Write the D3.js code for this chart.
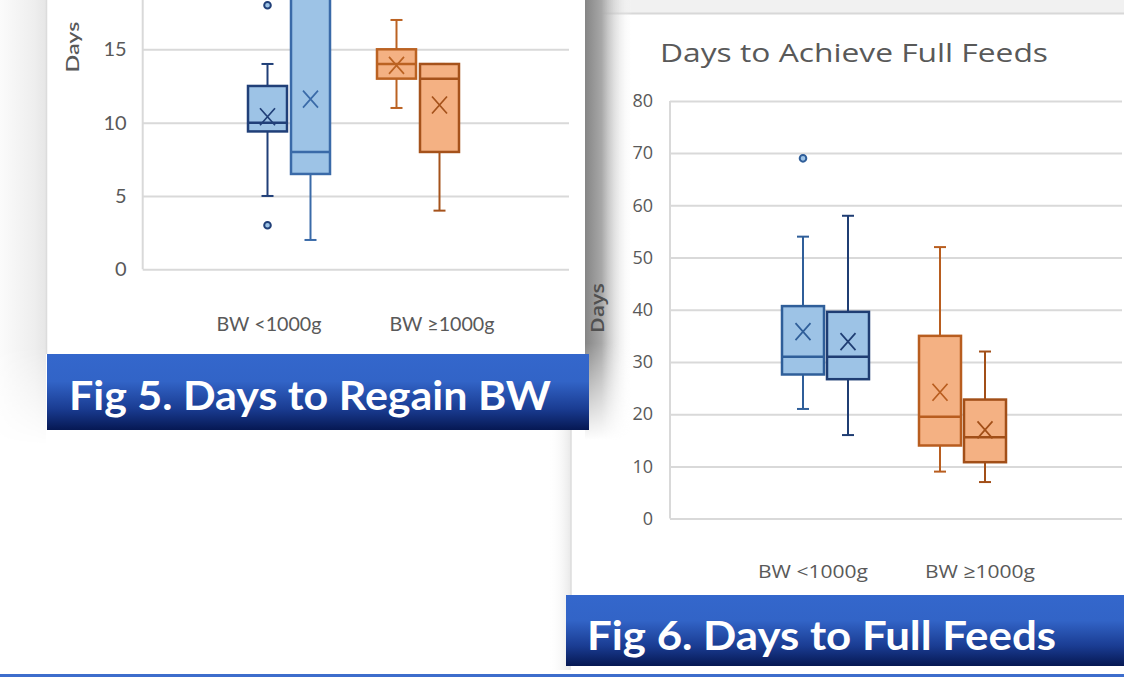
<!DOCTYPE html>
<html>
<head>
<meta charset="utf-8">
<script src="https://cdn.jsdelivr.net/npm/d3@7"></script>
<style>
body { margin: 0; background: #fff; }
svg { display: block; }
</style>
</head>
<body>
<svg id="poster" width="1124" height="677"></svg>
<script>
const categories = ['BW <1000g', 'BW ≥1000g']
const groups = ['Group 1', 'Group 2']

// Fig 5 - days to regain BW, box order: <1000g/g1, <1000g/g2, ≥1000g/g1, ≥1000g/g2
const regainMin = [5, 2, 11, 4]
const regainQ1 = [9.4, 6.5, 13, 8]
const regainMedian = [10, 8, 14, 13]
const regainQ3 = [12.5, 19.5, 15, 14]
const regainMax = [14, 24, 17, 14]
const regainMean = [10.4, 11.6, 13.9, 11.2]
const regainOutliers = [[18, 3], [], [], []]
const regainTicks = [0, 5, 10, 15]

// Fig 6 - days to achieve full feeds
const feedsMin = [21, 16, 9, 7]
const feedsQ1 = [27.6, 26.7, 14, 10.8]
const feedsMedian = [31, 31, 19.5, 15.6]
const feedsQ3 = [40.7, 39.6, 35, 22.8]
const feedsMax = [54, 58, 52, 32]
const feedsMean = [35.8, 33.9, 24.2, 17]
const feedsOutliers = [[69], [], [], []]
const feedsTicks = [0, 10, 20, 30, 40, 50, 60, 70, 80]

const BLUE_FILL = '#9dc3e6'
const ORANGE_FILL = '#f4b183'
const GRID = '#d9d9d9'
const TEXT = '#595959'

const svg = d3.select('#poster')
const defs = svg.append('defs')

function gradient(id, vertical, stops) {
	const g = defs.append('linearGradient')
		.attr('id', id)
		.attr('x1', 0).attr('y1', 0)
		.attr('x2', vertical ? 0 : 1).attr('y2', vertical ? 1 : 0)
	stops.forEach(s => g.append('stop')
		.attr('offset', s[0])
		.attr('stop-color', s[1])
		.attr('stop-opacity', s[2] === undefined ? 1 : s[2]))
}

gradient('bannerGrad', true, [[0, '#3467cc'], [0.36, '#3264c7'], [0.72, '#1a3c92'], [1, '#061853']])
gradient('leftShade', false, [[0, '#fbfbfb'], [0.75, '#eeeeee'], [1, '#e6e6e6']])
gradient('darkShade', false, [[0, '#858585'], [0.35, '#a8a8a8'], [1, '#ffffff', 0]])
gradient('edgeShade', false, [[0, '#ffffff', 0], [1, '#e8e8e8']])
gradient('fadeDown', true, [[0, '#fff'], [0.78, '#fff'], [1, '#000']])

defs.append('mask').attr('id', 'fadeMask')
	.attr('maskContentUnits', 'objectBoundingBox')
	.append('rect')
	.attr('width', 1).attr('height', 1)
	.attr('fill', 'url(#fadeDown)')

// ---- poster background pieces
const bg = svg.append('g').attr('class', 'poster-bg')

bg.append('rect')
	.attr('x', 0).attr('y', 0).attr('width', 46).attr('height', 445)
	.attr('fill', 'url(#leftShade)')
	.attr('mask', 'url(#fadeMask)')

bg.append('line')
	.attr('x1', 46.5).attr('x2', 46.5).attr('y1', 0).attr('y2', 354)
	.attr('stroke', '#dcdcdc').attr('stroke-width', 1.5)

// top strip of the fig 6 panel
bg.append('rect')
	.attr('x', 585).attr('y', 0).attr('width', 539).attr('height', 13)
	.attr('fill', '#f1f1f1')
bg.append('line')
	.attr('x1', 585).attr('x2', 1124).attr('y1', 13.5).attr('y2', 13.5)
	.attr('stroke', '#d8d8d8').attr('stroke-width', 2)

// lower left edge of the fig 6 panel
bg.append('rect')
	.attr('x', 549).attr('y', 430).attr('width', 22).attr('height', 240)
	.attr('fill', 'url(#edgeShade)')
bg.append('line')
	.attr('x1', 571).attr('x2', 571).attr('y1', 430).attr('y2', 596)
	.attr('stroke', '#dddddd').attr('stroke-width', 1.5)

// shadow cast by the fig 5 panel
bg.append('rect')
	.attr('x', 585).attr('y', 0).attr('width', 48).attr('height', 440)
	.attr('fill', 'url(#darkShade)')
	.attr('mask', 'url(#fadeMask)')

// ---- box plot drawer
function drawBoxPlot(cfg) {
	const g = svg.append('g').attr('class', cfg.cls)

	const y = d3.scaleLinear()
		.domain(cfg.domain)
		.range([cfg.bottom, cfg.top])

	const xBand = d3.scaleBand()
		.domain(categories)
		.range(cfg.bandRange)

	const xSub = d3.scalePoint()
		.domain(groups)
		.range([-cfg.subOffset, cfg.subOffset])

	const xLabel = d3.scalePoint()
		.domain(categories)
		.range(cfg.labelRange)

	// gridlines + tick labels
	const axis = d3.axisLeft(y)
		.tickValues(cfg.ticks)
		.tickSize(-(cfg.right - cfg.left))
		.tickPadding(cfg.tickPadding)

	const axisG = g.append('g')
		.attr('transform', `translate(${cfg.left},0)`)
		.call(axis)

	axisG.select('.domain').remove()
	axisG.selectAll('.tick line')
		.attr('stroke', GRID)
		.attr('stroke-width', 2)
	axisG.selectAll('.tick text')
		.attr('fill', TEXT)
		.style('font-family', cfg.font)
		.style('font-size', cfg.tickFont + 'px')

	g.append('line')
		.attr('x1', cfg.left).attr('x2', cfg.left)
		.attr('y1', cfg.axisTop).attr('y2', y(0))
		.attr('stroke', GRID).attr('stroke-width', 2)

	// category labels
	g.selectAll('.cat-label')
		.data(categories)
		.enter().append('text')
		.attr('class', 'cat-label')
		.attr('x', d => xLabel(d))
		.attr('y', cfg.labelY)
		.attr('text-anchor', 'middle')
		.attr('textLength', cfg.labelLength)
		.attr('lengthAdjust', 'spacingAndGlyphs')
		.attr('fill', TEXT)
		.style('font-family', cfg.font)
		.style('font-size', cfg.labelFont + 'px')
		.text(d => d)

	// y title
	g.append('text')
		.attr('transform', `translate(${cfg.yTitle[0]},${cfg.yTitle[1]}) rotate(-90)`)
		.attr('text-anchor', 'middle')
		.attr('dy', '0.35em')
		.attr('textLength', cfg.yTitleLength)
		.attr('lengthAdjust', 'spacingAndGlyphs')
		.attr('fill', cfg.yTitleColor)
		.style('font-family', cfg.font)
		.style('font-weight', 600)
		.style('font-size', '18px')
		.text('Days')

	const boxes = categories.flatMap((c, ci) => groups.map((s, si) => {
		const i = ci * groups.length + si
		return {
			cat: c, group: s, i,
			min: cfg.min[i], q1: cfg.q1[i], median: cfg.median[i],
			q3: cfg.q3[i], max: cfg.max[i], mean: cfg.mean[i],
			outliers: cfg.outliers[i],
			fill: ci === 0 ? BLUE_FILL : ORANGE_FILL,
			stroke: cfg.strokes[i]
		}
	}))

	const bw = cfg.boxWidth
	const cap = 6

	const box = g.selectAll('.box')
		.data(boxes)
		.enter().append('g')
		.attr('class', 'box')
		.attr('transform', d => `translate(${xBand(d.cat) + xBand.bandwidth() / 2 + xSub(d.group)},0)`)

	// whiskers
	box.append('line')
		.attr('x1', 0).attr('x2', 0)
		.attr('y1', d => y(d.max)).attr('y2', d => y(d.q3))
		.attr('stroke', d => d.stroke).attr('stroke-width', 2)
	box.append('line')
		.attr('x1', 0).attr('x2', 0)
		.attr('y1', d => y(d.q1)).attr('y2', d => y(d.min))
		.attr('stroke', d => d.stroke).attr('stroke-width', 2)
	box.append('line')
		.attr('x1', -cap).attr('x2', cap)
		.attr('y1', d => y(d.max)).attr('y2', d => y(d.max))
		.attr('stroke', d => d.stroke).attr('stroke-width', 2)
	box.append('line')
		.attr('x1', -cap).attr('x2', cap)
		.attr('y1', d => y(d.min)).attr('y2', d => y(d.min))
		.attr('stroke', d => d.stroke).attr('stroke-width', 2)

	box.append('rect')
		.attr('x', -bw / 2)
		.attr('width', bw)
		.attr('y', d => y(d.q3))
		.attr('height', d => y(d.q1) - y(d.q3))
		.attr('fill', d => d.fill)
		.attr('stroke', d => d.stroke)
		.attr('stroke-width', 2.5)

	box.append('line')
		.attr('x1', -bw / 2).attr('x2', bw / 2)
		.attr('y1', d => y(d.median)).attr('y2', d => y(d.median))
		.attr('stroke', d => d.stroke).attr('stroke-width', 2.5)

	// mean marker
	const mx = 7.5
	const my = 8.5
	box.append('path')
		.attr('d', d => {
			const m = y(d.mean)
			return `M${-mx},${m - my}L${mx},${m + my}M${mx},${m - my}L${-mx},${m + my}`
		})
		.attr('fill', 'none')
		.attr('stroke', d => d.stroke)
		.attr('stroke-width', 1.7)

	box.selectAll('.outlier')
		.data(d => d.outliers.map(v => ({ v, stroke: d.stroke })))
		.enter().append('circle')
		.attr('class', 'outlier')
		.attr('cx', 0)
		.attr('cy', d => y(d.v))
		.attr('r', 3.3)
		.attr('fill', BLUE_FILL)
		.attr('stroke', d => d.stroke)
		.attr('stroke-width', 2)
}

drawBoxPlot({
	cls: 'fig5',
	domain: [0, 15], bottom: 269.3, top: 49.3,
	left: 142.7, right: 569, axisTop: 0,
	ticks: regainTicks, tickPadding: 16,
	bandRange: [224.5, 482.5], subOffset: 21.5, boxWidth: 39,
	labelRange: [269, 442], labelY: 331, labelLength: 105, labelFont: 20,
	font: 'Lato, sans-serif', tickFont: 20,
	yTitle: [73, 47], yTitleLength: 51, yTitleColor: TEXT,
	min: regainMin, q1: regainQ1, median: regainMedian, q3: regainQ3,
	max: regainMax, mean: regainMean, outliers: regainOutliers,
	strokes: ['#203f78', '#3a6aa8', '#bb6222', '#a5521b']
})

drawBoxPlot({
	cls: 'fig6',
	domain: [0, 80], bottom: 518.6, top: 100.9,
	left: 670, right: 1122, axisTop: 100.9,
	ticks: feedsTicks, tickPadding: 17,
	bandRange: [757, 1031], subOffset: 22.5, boxWidth: 42,
	labelRange: [813, 980], labelY: 578, labelLength: 110, labelFont: 19,
	font: "'Open Sans', sans-serif", tickFont: 18,
	yTitle: [598, 308], yTitleLength: 50, yTitleColor: '#505050',
	min: feedsMin, q1: feedsQ1, median: feedsMedian, q3: feedsQ3,
	max: feedsMax, mean: feedsMean, outliers: feedsOutliers,
	strokes: ['#2f5e99', '#1f3d73', '#b85d1f', '#a24f18']
})

// chart title of fig 6
svg.append('text')
	.attr('x', 660)
	.attr('y', 62)
	.attr('textLength', 388)
	.attr('lengthAdjust', 'spacingAndGlyphs')
	.attr('fill', TEXT)
	.style('font-family', "'Open Sans', sans-serif")
	.style('font-size', '26px')
	.text('Days to Achieve Full Feeds')

// ---- caption banners
const banners = [
	{ x: 47, y: 354, w: 542, h: 76, text: 'Fig 5. Days to Regain BW', tx: 69, ty: 410, len: 482 },
	{ x: 566, y: 595, w: 558, h: 71, text: 'Fig 6. Days to Full Feeds', tx: 587, ty: 650, len: 469 }
]

const banner = svg.selectAll('.banner')
	.data(banners)
	.enter().append('g')
	.attr('class', 'banner')

banner.append('rect')
	.attr('x', d => d.x).attr('y', d => d.y)
	.attr('width', d => d.w).attr('height', d => d.h)
	.attr('fill', 'url(#bannerGrad)')

banner.append('text')
	.attr('x', d => d.tx).attr('y', d => d.ty)
	.attr('textLength', d => d.len)
	.attr('lengthAdjust', 'spacingAndGlyphs')
	.attr('fill', '#fff')
	.style('font-family', 'Lato, sans-serif')
	.style('font-weight', 700)
	.style('font-size', '41px')
	.text(d => d.text)

svg.append('rect')
	.attr('x', 0).attr('y', 674)
	.attr('width', 1124).attr('height', 3)
	.attr('fill', '#3d6dcc')
</script>
</body>
</html>
